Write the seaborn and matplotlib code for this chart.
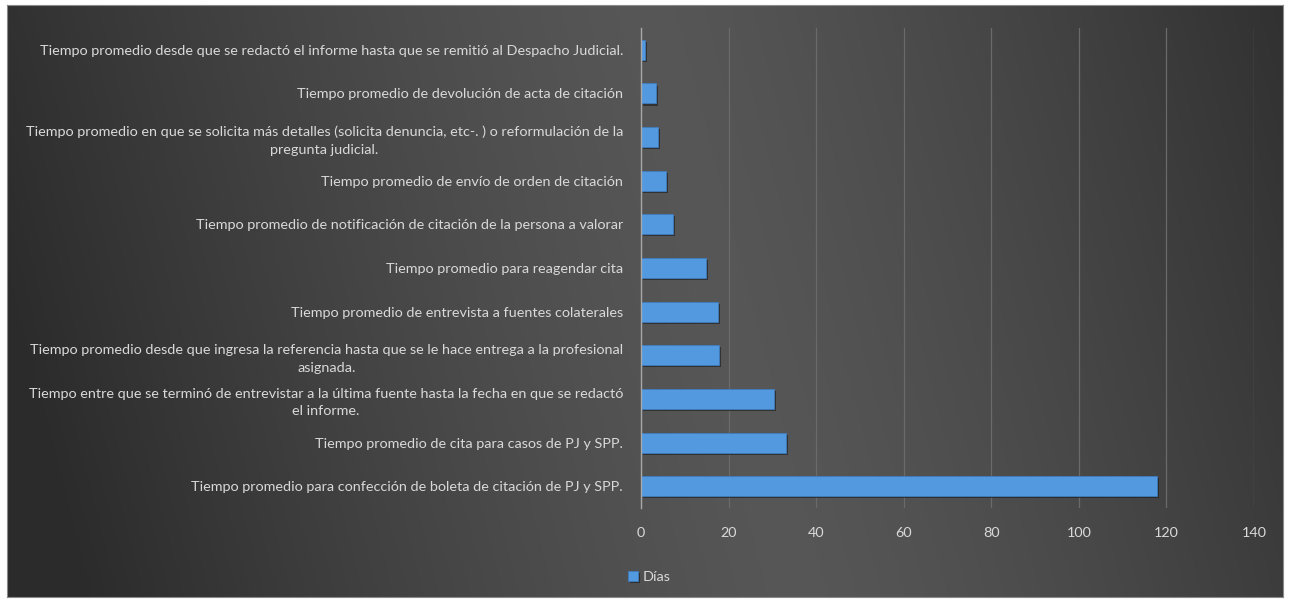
import numpy as np
import pandas as pd
import matplotlib
matplotlib.use("Agg")
import matplotlib.pyplot as plt
import matplotlib.patheffects as pe
import seaborn as sns

categories = [
    "Tiempo promedio desde que se redactó el informe hasta que se remitió al Despacho Judicial.",
    "Tiempo promedio de devolución de acta de citación",
    "Tiempo promedio en que se solicita más detalles (solicita denuncia, etc-. ) o reformulación de la\npregunta judicial.",
    "Tiempo promedio de envío de orden de citación",
    "Tiempo promedio de notificación de citación de la persona a valorar",
    "Tiempo promedio para reagendar cita",
    "Tiempo promedio de entrevista a fuentes colaterales",
    "Tiempo promedio desde que ingresa la referencia hasta que se le hace entrega a la profesional\nasignada.",
    "Tiempo entre que se terminó de entrevistar a la última fuente hasta la fecha en que se redactó\nel informe.",
    "Tiempo promedio de cita para casos de PJ y SPP.",
    "Tiempo promedio para confección de boleta de citación de PJ y SPP.",
]
dias = [0.9, 3.5, 3.9, 5.8, 7.3, 14.8, 17.6, 17.9, 30.4, 33.1, 117.8]
series_name = "Días"
xticks = [0, 20, 40, 60, 80, 100, 120, 140]

sns.set_theme(style="white")
plt.rcParams["font.family"] = ["Lato", "DejaVu Sans"]

W, H = 1289, 602
fig = plt.figure(figsize=(W / 100, H / 100), dpi=100, facecolor="white")

# background panel with gradient
bg = fig.add_axes([7 / W, 5 / H, (1283 - 7) / W, (597 - 5) / H])
xs = np.linspace(0, 1, 400)
ys = np.linspace(0, 1, 200)
X, Y = np.meshgrid(xs, ys)
d = np.abs((X - 0.56) + 0.12 * (Y - 0.5)) / 0.56
val = 0.34 - 0.17 * np.clip(d, 0, 1) ** 1.3
img = np.dstack([val, val, val])
bg.imshow(img, aspect="auto", extent=[0, 1, 0, 1], origin="lower")
bg.set_xticks([]); bg.set_yticks([])
for s in bg.spines.values():
    s.set_color("#8a8a8a"); s.set_linewidth(0.8)
bg.set_zorder(0)

df = pd.DataFrame({"cat": categories, "dias": dias, "serie": series_name})

ax = fig.add_axes([641 / W, 1 - 508 / H, (1254 - 641) / W, (508 - 28) / H])
ax.set_zorder(1)
ax.patch.set_alpha(0)
sns.barplot(data=df, y="cat", x="dias", hue="serie", orient="h",
            palette=["#5299e0"], width=0.46, ax=ax, legend=True,
            edgecolor="#3f7cbd", linewidth=0.6, saturation=1)
for p in ax.patches:
    p.set_path_effects([pe.SimplePatchShadow(offset=(1.5, -1.5), shadow_rgbFace="#1a1a1a", alpha=0.6), pe.Normal()])
    p.set_zorder(3)

ax.set_xlim(0, 140)
ax.set_xticks(xticks)
ax.set_xticklabels([str(t) for t in xticks])
ax.set_xlabel("")
ax.set_ylabel("")
ax.grid(axis="x", color="#6a6a6a", linewidth=0.9)
ax.set_axisbelow(True)
for s in ["top", "right", "bottom"]:
    ax.spines[s].set_visible(False)
ax.spines["left"].set_color("#a8a8a8")
ax.spines["left"].set_linewidth(1.0)
ax.spines["left"].set_zorder(4)
ax.tick_params(axis="both", length=0, colors="#d9d9d9", labelsize=10.4)
ax.tick_params(axis="x", pad=14)
ax.tick_params(axis="y", pad=13)
for lab in ax.get_yticklabels():
    lab.set_multialignment("center")
    lab.set_linespacing(1.55)
    lab.set_color("#d9d9d9")
for lab in ax.get_xticklabels():
    lab.set_color("#d9d9d9")

leg = ax.legend(loc="lower left", bbox_to_anchor=(628 / W, 1 - 583 / H),
                bbox_transform=fig.transFigure, frameon=False,
                handlelength=0.7, handleheight=0.7, handletextpad=0.3,
                fontsize=10.4, borderaxespad=0, borderpad=0)
for t in leg.get_texts():
    t.set_color("#d9d9d9")

fig.savefig("out.png", dpi=100, facecolor="white")
